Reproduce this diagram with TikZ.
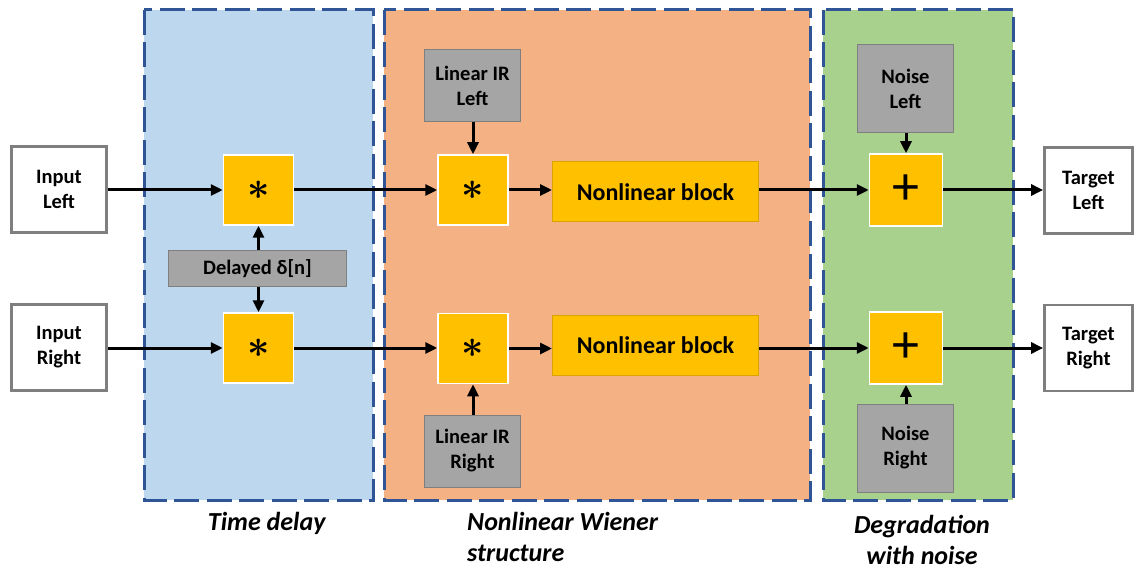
\documentclass[tikz,border=0pt]{standalone}
\usepackage{graphicx}
\usepackage{fontspec}
\setmainfont{Carlito}
\usetikzlibrary{arrows.meta}
\definecolor{regblue}{HTML}{BDD7EE}
\definecolor{regorange}{HTML}{F4B183}
\definecolor{reggreen}{HTML}{A9D18E}
\definecolor{dashblue}{HTML}{2F5597}
\definecolor{opyellow}{HTML}{FFC000}
\definecolor{nledge}{HTML}{D9A400}
\definecolor{srcgray}{HTML}{A5A5A5}
\definecolor{edgegray}{HTML}{7F7F7F}
\newcommand{\convsym}{\raisebox{-4pt}{\scalebox{3.9}{\boldmath$\ast$}}}
\newcommand{\addsym}{\raisebox{-3pt}{\fontsize{54}{54}\selectfont +}}
\begin{document}
\begin{tikzpicture}[x=1pt,y=-1pt,
  region/.style={draw=dashblue, line width=3pt, dash pattern=on 25pt off 7.5pt},
  lbl/.style={font=\fontsize{20.5}{25}\selectfont\bfseries, align=center, inner sep=0pt},
  io/.style={lbl, draw=edgegray, line width=2.8pt, fill=white},
  src/.style={lbl, draw=edgegray, line width=1pt, fill=srcgray},
  op/.style={draw=white, line width=1.5pt, fill=opyellow, minimum width=70pt, minimum height=70pt, inner sep=0pt},
  nlbox/.style={draw=nledge, line width=1pt, fill=opyellow, minimum width=206pt, minimum height=60pt,
    inner sep=0pt, font=\fontsize{24}{28}\selectfont\bfseries},
  caption/.style={font=\fontsize{26}{31}\selectfont\bfseries\itshape, inner sep=0pt},
  flow/.style={line width=3pt, -{Triangle[length=12pt,width=11pt]}}]
\useasboundingbox (0,0) rectangle (1135,572);

% stage backgrounds
\draw[region, fill=regblue]   (144,10) rectangle (373,500);
\draw[region, fill=regorange] (384,10) rectangle (810,500);
\draw[region, fill=reggreen]  (823,10) rectangle (1013,500);

% inputs and targets
\node[io, minimum width=95pt, minimum height=86pt] (inL) at (59,189.5) {Input\\Left};
\node[io, minimum width=95pt, minimum height=86pt] (inR) at (59,347.5) {Input\\Right};
\node[io, minimum width=88pt, minimum height=86pt] (tL) at (1088.5,190.5) {Target\\Left};
\node[io, minimum width=88pt, minimum height=86pt] (tR) at (1088.5,348) {Target\\Right};

% time delay stage
\node[op] (c1) at (258.5,190) {\convsym};
\node[op] (c2) at (258.5,348) {\convsym};
\node[src, minimum width=178pt, minimum height=36pt] (delay) at (257.5,268.5) {Delayed δ[n]};

% Wiener stage
\node[op] (c3) at (473,190) {\convsym};
\node[op] (c4) at (473,348.5) {\convsym};
\node[src, minimum width=96pt, minimum height=72pt] (irL) at (472.5,85.5) {Linear IR\\Left};
\node[src, minimum width=96pt, minimum height=72pt] (irR) at (472.5,451) {Linear IR\\Right};
\node[nlbox] (nl1) at (655.5,192) {Nonlinear block};
\node[nlbox] (nl2) at (655.5,345) {Nonlinear block};

% noise stage
\node[op, minimum width=73pt, minimum height=72pt] (p1) at (906,190) {\addsym};
\node[op, minimum width=73pt, minimum height=72pt] (p2) at (906,348) {\addsym};
\node[src, minimum width=96pt, minimum height=88pt] (nL) at (905.5,88.5) {Noise\\Left};
\node[src, minimum width=96pt, minimum height=88pt] (nR) at (905.5,448) {Noise\\Right};

% signal flow
\draw[flow] (inL.east |- c1.west) -- (c1.west);
\draw[flow] (inR.east |- c2.west) -- (c2.west);
\draw[flow] (c1.south |- delay.north) -- (c1.south);
\draw[flow] (c2.north |- delay.south) -- (c2.north);
\draw[flow] (c1.east) -- (c3.west);
\draw[flow] (c2.east) -- (c2.east -| c4.west);
\draw[flow] (c3.north |- irL.south) -- (c3.north);
\draw[flow] (c4.south |- irR.north) -- (c4.south);
\draw[flow] (c3.east) -- (c3.east -| nl1.west);
\draw[flow] (c4.east) -- (c4.east -| nl2.west);
\draw[flow] (p1.west -| nl1.east) -- (p1.west);
\draw[flow] (p2.west -| nl2.east) -- (p2.west);
\draw[flow] (p1.north |- nL.south) -- (p1.north);
\draw[flow] (p2.south |- nR.north) -- (p2.south);
\draw[flow] (p1.east) -- (p1.east -| tL.west);
\draw[flow] (p2.east) -- (p2.east -| tR.west);

% stage captions (base anchor sits on the last line)
\node[caption, anchor=base] (capdelay) at (266.7,530) {Time delay};
\node[caption, anchor=base west, align=left] (capwiener) at (467,561) {Nonlinear Wiener\\structure};
\node[caption, anchor=base, align=center] (capnoise) at (922,564) {Degradation\\with noise};
\end{tikzpicture}
\end{document}
